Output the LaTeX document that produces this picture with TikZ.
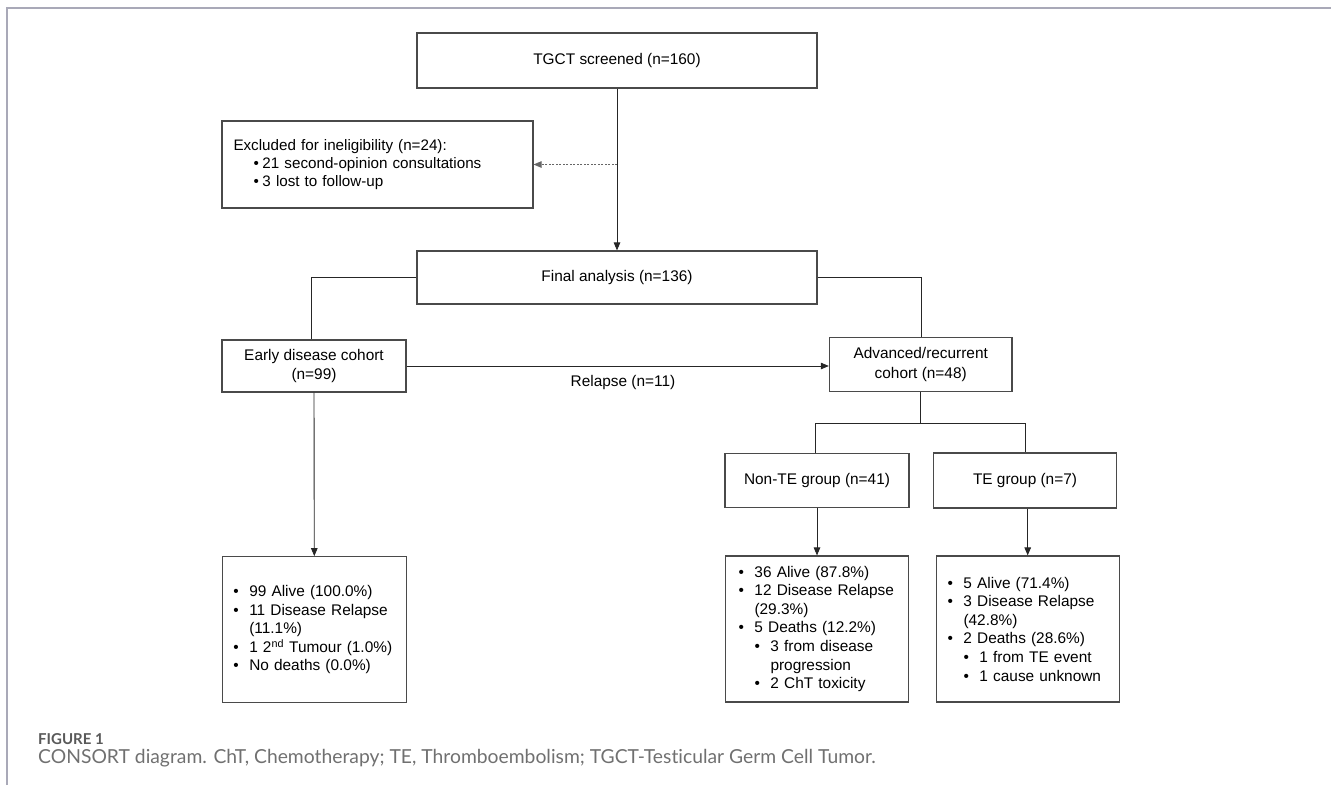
\documentclass[tikz,border=0pt]{standalone}
\usepackage{fontspec}
\setmainfont{Liberation Sans}
\newfontfamily\capfont[Ligatures=NoCommon]{Lato}
\usetikzlibrary{arrows.meta}
\definecolor{frameline}{HTML}{A9A9B8}
\definecolor{boxline}{HTML}{4A4A4A}
\definecolor{capgray}{HTML}{707070}
\definecolor{figgray}{HTML}{595959}
\newcommand\bi[1]{\makebox[16pt][l]{•}#1}
\newcommand\ind{\hspace*{16pt}}
\begin{document}
\begin{tikzpicture}[x=1pt,y=-1pt,
  box/.style={draw=boxline, line width=1.1pt, inner sep=0pt, font=\fontsize{15.4}{19.5}\selectfont},
  cbox/.style={box, align=center},
  obox/.style={draw=boxline, line width=1.1pt, inner ysep=0pt, minimum height=146pt, align=left, font=\fontsize{15.4}{18.6}\selectfont},
  conn/.style={draw=black!85, line width=0.9pt},
  arr/.style={conn, -{Triangle[length=8pt,width=6.5pt]}},
  darr/.style={draw=black!60, line width=0.9pt, dash pattern=on 2pt off 1.5pt, -{Triangle[length=8pt,width=6.5pt]}}
]
\useasboundingbox (0,0) rectangle (1331,785);
% page frame
\draw[frameline, line width=1.5pt] (7,785) -- (7,8) -- (1331,8);

% nodes
\node[cbox, minimum width=400pt, minimum height=55pt] (tgct) at (617,60.5) {TGCT screened (n=160)};
\node[box, align=left, text width=288pt, inner xsep=11.5pt, minimum height=87pt, font=\fontsize{15.2}{18.3}\selectfont] (excl) at (377.5,164.5)
  {Excluded for ineligibility (n=24):\\
   \hspace*{20.1pt}\makebox[8.9pt][l]{•}21 second-opinion consultations\\
   \hspace*{20.1pt}\makebox[8.9pt][l]{•}3 lost to follow-up};
\node[cbox, minimum width=400pt, minimum height=53pt] (final) at (617,277.5) {Final analysis (n=136)};
\node[cbox, minimum width=184pt, minimum height=52pt] (early) at (314,366) {Early disease cohort\\(n=99)};
\node[cbox, minimum width=182.6pt, minimum height=53.3pt] (adv) at (920.7,364.4) {Advanced/recurrent\\cohort (n=48)};
\node[cbox, minimum width=184pt, minimum height=54.7pt] (nonte) at (817,480.4) {Non-TE group (n=41)};
\node[cbox, minimum width=183pt, minimum height=55pt] (te) at (1025,480.5) {TE group (n=7)};

\node[obox, inner xsep=11pt, text width=162pt] (eout) at (314.3,629.7)
  {\bi{99 Alive (100.0\%)}\\
   \bi{11 Disease Relapse}\\
   \ind(11.1\%)\\
   \bi{1 2\textsuperscript{nd} Tumour (1.0\%)}\\
   \bi{No deaths (0.0\%)}};
\node[obox, inner xsep=12.8pt, text width=157.4pt] (nout) at (817.2,629)
  {\bi{36 Alive (87.8\%)}\\
   \bi{12 Disease Relapse}\\
   \ind(29.3\%)\\
   \bi{5 Deaths (12.2\%)}\\
   \ind\bi{3 from disease}\\
   \ind\ind progression\\
   \ind\bi{2 ChT toxicity}};
\node[obox, inner xsep=10.8pt, text width=161pt] (tout) at (1028,629)
  {\bi{5 Alive (71.4\%)}\\
   \bi{3 Disease Relapse}\\
   \ind(42.8\%)\\
   \bi{2 Deaths (28.6\%)}\\
   \ind\bi{1 from TE event}\\
   \ind\bi{1 cause unknown}};

\node[font=\fontsize{15.4}{18}\selectfont, inner sep=0pt] (rel) at (623,383) {Relapse (n=11)};

% coordinates
\coordinate (dj) at (617,164.5);
\coordinate (lb) at (311.7,277.5);
\coordinate (rb) at (921.7,277.5);
\coordinate (ab) at (920.7,423.3);
\coordinate (al) at (815.3,423.3);
\coordinate (ar) at (1025.6,423.3);

% connectors
\draw[arr] (tgct.south) -- (final.north);
\draw[darr] (dj) -- (excl.east);
\draw[conn] (final.west) -- (lb) -- (lb |- early.north);
\draw[conn] (final.east) -- (rb) -- (rb |- adv.north);
\draw[arr] (early.east) -- (early.east -| adv.west);
\draw[arr] (early.south) -- (eout.north);
\draw[conn] (adv.south) -- (ab);
\draw[conn] (al |- nonte.north) -- (al) -- (ar) -- (ar |- te.north);
\draw[arr] (nonte.south) -- (nonte.south |- nout.north);
\draw[arr] (1027.7,0 |- te.south) -- (1027.7,0 |- tout.north);

% caption
\node[anchor=west, inner sep=0pt, font=\capfont\bfseries\fontsize{15}{17}\selectfont, text=figgray] (figlab) at (38,739) {FIGURE 1};
\node[anchor=west, inner sep=0pt, font=\capfont\fontsize{19.3}{22}\selectfont, text=capgray] (cap) at (38,758.5) {CONSORT diagram. ChT, Chemotherapy; TE, Thromboembolism; TGCT-Testicular Germ Cell Tumor.};
\end{tikzpicture}
\end{document}
